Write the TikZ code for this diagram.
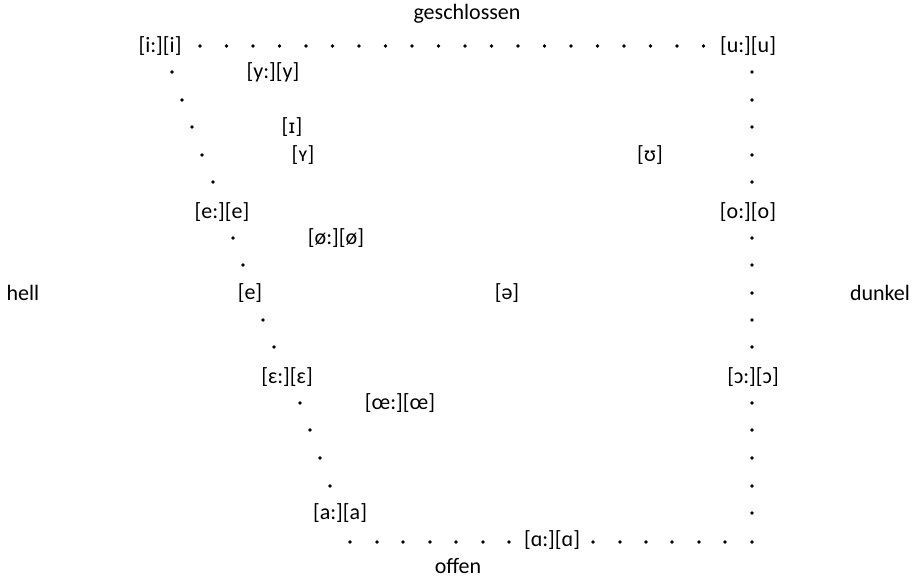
\documentclass[tikz,border=0pt]{standalone}
\usepackage{fontspec}
\setmainfont{Carlito}
\newfontfamily\ipafont{DejaVu Sans}
\begin{document}
\begin{tikzpicture}[x=0.5pt,y=-0.5pt,
  lbl/.style={inner sep=0pt,font=\fontsize{11}{13}\selectfont,text=black},
  dot/.style={fill=black,circle,inner sep=0pt,minimum size=1.8pt}]
\useasboundingbox (0,0) rectangle (920,577);
% labels
\node[lbl] (top) at (467,14) {geschlossen};
\node[lbl] (bot) at (458,566) {offen};
\node[lbl] (hell) at (23,293) {hell};
\node[lbl] (dunkel) at (880,293) {dunkel};
\node[lbl] (ii) at (160,46) {[i:][i]};
\node[lbl] (uu) at (748,46) {[u:][u]};
\node[lbl] (yy) at (273,72) {[y:][y]};
\node[lbl] (ih) at (292,127) {[{\ipafont\fontsize{9.5}{11}\selectfont ɪ}]};
\node[lbl] (yh) at (303,155) {[ʏ]};
\node[lbl] (uh) at (650,155) {[ʊ]};
\node[lbl] (ee) at (222,212) {[e:][e]};
\node[lbl] (oo) at (748,212) {[o:][o]};
\node[lbl] (oeoe) at (336,238) {[ø:][ø]};
\node[lbl] (e) at (250,293) {[e]};
\node[lbl] (schwa) at (507,293) {[ə]};
\node[lbl] (epsep) at (287,377) {[ɛ:][ɛ]};
\node[lbl] (opop) at (753,377) {[ɔ:][ɔ]};
\node[lbl] (oeoeo) at (400,403) {[œ:][œ]};
\node[lbl] (aa) at (340,513) {[a:][a]};
\node[lbl] (alal) at (552,540) {[ɑ:][ɑ]};
% dots: top row
\foreach \k in {0,...,19} \node[dot] at ({200+26.5*\k},46) {};
% left diagonal
\foreach \p in {(172,72),(182,100),(192,127),(202,155),(213,182),
  (233,238),(243,265),(263,320),(274,347),
  (300,403),(310,430),(320,458),(330,486)} \node[dot] at \p {};
% bottom row
\foreach \x in {350,377,403,430,456,483,509,593,620,646,672,699,725,752}
  \node[dot] at (\x,542) {};
% right column
\foreach \y in {72,100,127,155,182,238,265,293,320,347,403,430,458,486,513}
  \node[dot] at (752,\y) {};
\end{tikzpicture}
\end{document}
